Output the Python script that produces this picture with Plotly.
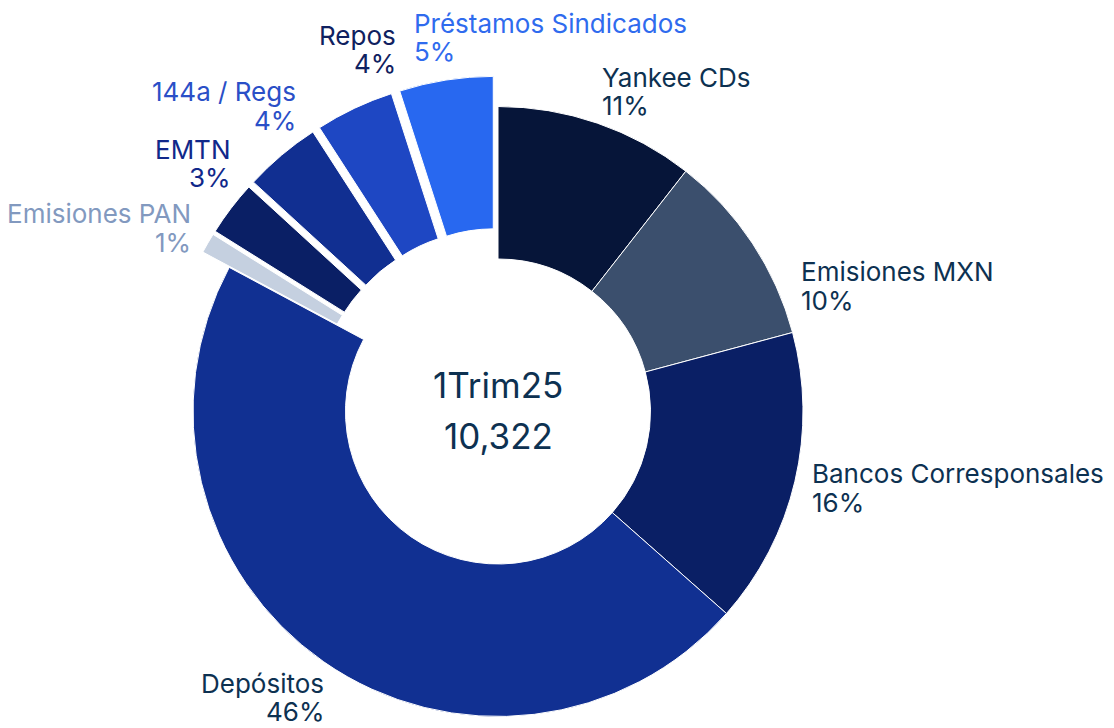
import math
import plotly.graph_objects as go

labels = ["Yankee CDs", "Emisiones MXN", "Bancos Corresponsales", "Depósitos",
          "Emisiones PAN", "EMTN", "144a / Regs", "Repos", "Préstamos Sindicados"]
values = [1090, 1060, 1620, 4780, 110, 300, 420, 430, 512]
period = "1Trim25"

slice_colors = ["#061539", "#3B4F6D", "#0A1F65", "#113092",
                "#C5D0E0", "#0A1F65", "#112F91", "#1E47C3", "#2868F0"]
label_colors = ["#0D3151", "#0D3151", "#0D3151", "#0D3151",
                "#8299BF", "#10288A", "#2A4FC7", "#0F2160", "#2F6BEE"]
pulls = [0, 0, 0, 0, 0.1, 0.1, 0.1, 0.1, 0.1]
# pixel nudges so the labels sit like the original layout (collision avoidance)
label_nudge = [(-4, -13), (30, 54), (-4, 2), (14, 19),
               (3, -5), (18, -33), (29, -34), (52, -41), (-31, -23)]

# the page body adds 8px, so the plot is laid out with that in mind
W, H = 1114, 742
M = dict(l=0, r=134, t=68, b=3)
pw, ph = W - M["l"] - M["r"], H - M["t"] - M["b"]
cx, cy = M["l"] + pw / 2, M["t"] + ph / 2
R = min(pw, ph) / 2 / (1 + max(pulls))


def to_paper(px, py):
    return (px - M["l"]) / pw, 1 - (py - M["t"]) / ph


fig = go.Figure(go.Pie(
    labels=labels,
    values=values,
    hole=0.5,
    sort=False,
    direction="clockwise",
    pull=pulls,
    marker=dict(colors=slice_colors, line=dict(color="white", width=1)),
    textinfo="none",
    hoverinfo="label+percent",
    showlegend=False,
))

total = sum(values)
cum = 0
for lab, val, col, pull, (nx, ny) in zip(labels, values, label_colors, pulls, label_nudge):
    theta = math.radians((cum + val / 2) / total * 360)
    cum += val
    r_lab = R * (1 + pull) + 20
    px = cx + r_lab * math.sin(theta) + nx
    py = cy - r_lab * math.cos(theta) + ny
    side = "left" if math.sin(theta) > -0.2 else "right"
    pct = f"{round(val / total * 100)}%"
    for txt, dy in ((lab, -14.2), (pct, 14.2)):
        x, y = to_paper(px, py + dy)
        fig.add_annotation(text=txt, x=x, y=y, xref="paper", yref="paper",
                           xanchor=side, yanchor="middle", showarrow=False,
                           font=dict(family="Inter", size=26, color=col))

for txt, dy in ((period, -27), (f"{total:,}", 24.5)):
    x, y = to_paper(cx, cy + dy)
    fig.add_annotation(text=txt, x=x, y=y, xref="paper", yref="paper",
                       xanchor="center", yanchor="middle", showarrow=False,
                       font=dict(family="Inter", size=35, color="#0D3151"))

fig.update_layout(
    width=W, height=H,
    margin=M,
    paper_bgcolor="white",
    font=dict(family="Inter"),
)
fig.write_html("out.html")
